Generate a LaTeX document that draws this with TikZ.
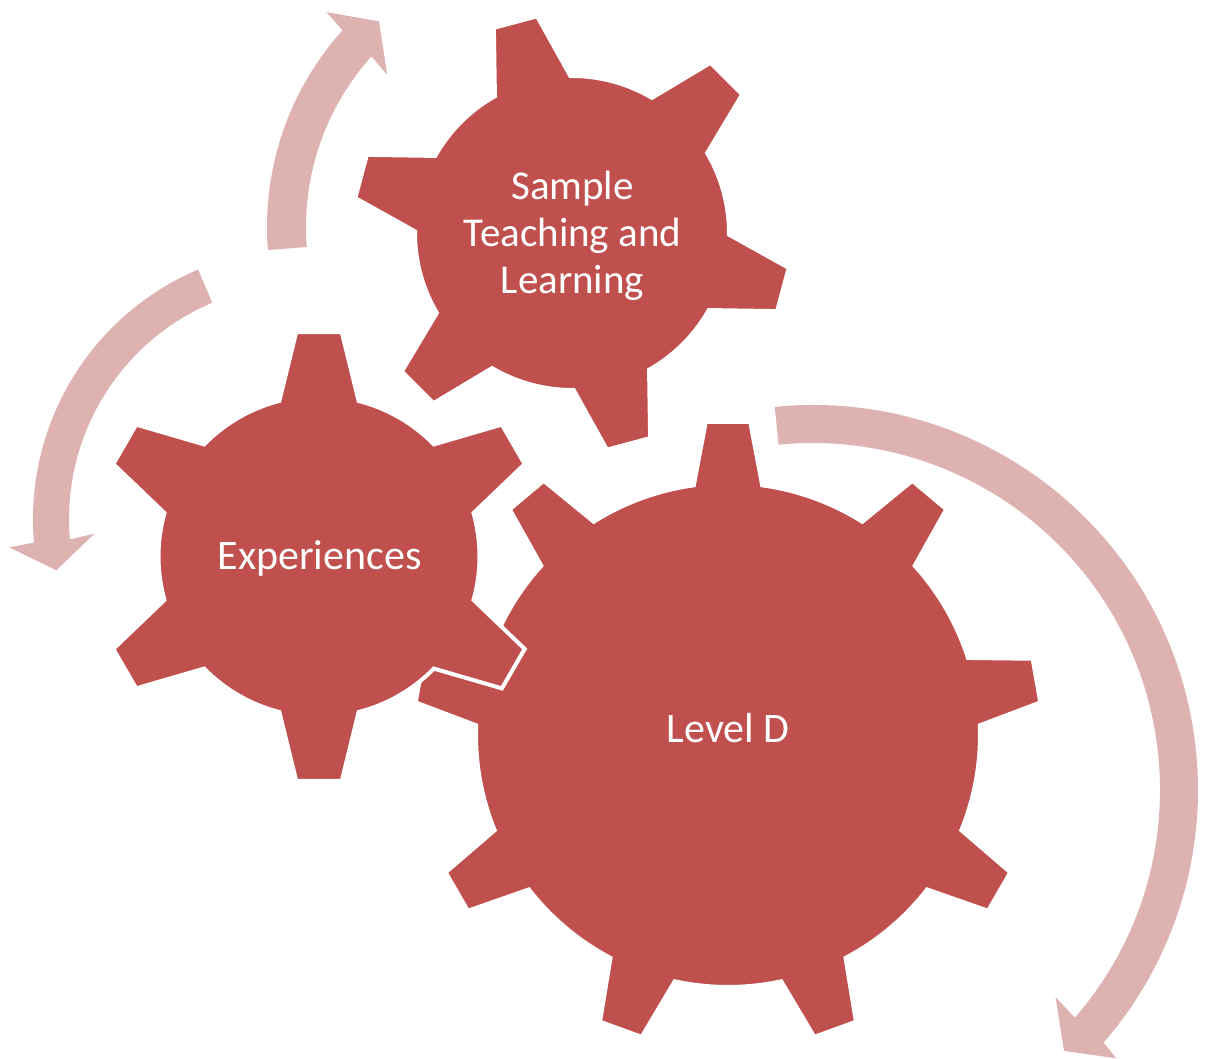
\documentclass[tikz,border=0pt]{standalone}
\usepackage{fontspec}
\setmainfont{Carlito}
\definecolor{gearred}{HTML}{C0504D}
\definecolor{turnpink}{RGB}{221,178,177}
\tikzset{
  gear/.style={fill=gearred, draw=white, line width=4pt, line join=miter},
  turn/.style={fill=turnpink},
  geartext/.style={text=white, align=center, font=\fontsize{42}{48}\selectfont}
}

\begin{document}
\begin{tikzpicture}[x=1pt, y=1pt]
  \useasboundingbox (0,0) rectangle (1205,1059);

  % 箭头
  \begin{scope}[shift={(561,832)}]
    \fill[turn] (184.5:294) arc[start angle=184.5, end angle=138, radius=294]
      -- (137.5:318) -- (131.5:274.5) -- (138.8:231) -- (138:255)
      arc[start angle=138, end angle=184.5, radius=255] -- cycle;
  \end{scope}
  \begin{scope}[shift={(304,540)}]
    \fill[turn] (113:271) arc[start angle=113, end angle=185, radius=271]
      -- (185.5:296) -- (191.7:253) -- (184:210) -- (185:235)
      arc[start angle=185, end angle=113, radius=235] -- cycle;
  \end{scope}
  \begin{scope}[shift={(813,269)}]
    \fill[turn] (95.7:385) arc[start angle=95.7, end angle=-41, radius=385]
      -- (-41.5:405) -- (-46.1:362) -- (-40.5:319) -- (-41:347)
      arc[start angle=-41, end angle=95.7, radius=347] -- cycle;
  \end{scope}

  % 齿轮 Level D
  \begin{scope}[shift={(728,324)}]
    \filldraw[gear] (2.2:252)
      \foreach \t in {10,50,...,330} {
        -- ({\t-4.05}:314) -- ({\t+4.05}:314) -- ({\t+7.8}:252)
        arc[start angle=\t+7.8, end angle=\t+32.2, radius=252]
      } -- cycle;
  \end{scope}

  % 齿轮 Sample Teaching and Learning
  \begin{scope}[shift={(572,826)}]
    \filldraw[gear] (30.6:157)
      \foreach \t in {45,105,...,345} {
        -- ({\t-5.85}:219.5) -- ({\t+5.85}:219.5) -- ({\t+14.4}:157)
        arc[start angle=\t+14.4, end angle=\t+45.6, radius=157]
      } -- cycle;
  \end{scope}

  % 齿轮 Experiences
  \begin{scope}[shift={(319,502.5)}]
    \filldraw[gear] (15.7:160.5)
      \foreach \t in {30,90,...,330} {
        -- ({\t-5.8}:225.5) -- ({\t+5.8}:225.5) -- ({\t+14.3}:160.5)
        arc[start angle=\t+14.3, end angle=\t+45.7, radius=160.5]
      } -- cycle;
  \end{scope}

  % 文字
  \node[geartext, anchor=base] (leveld) at (728,316) {Level D};
  \node[geartext, anchor=base] (exper) at (319.5,489) {Experiences};
  \node[geartext, font=\fontsize{41}{47}\selectfont] (sample) at (572.5,823)
    {Sample\\Teaching and\\Learning};
\end{tikzpicture}
\end{document}
